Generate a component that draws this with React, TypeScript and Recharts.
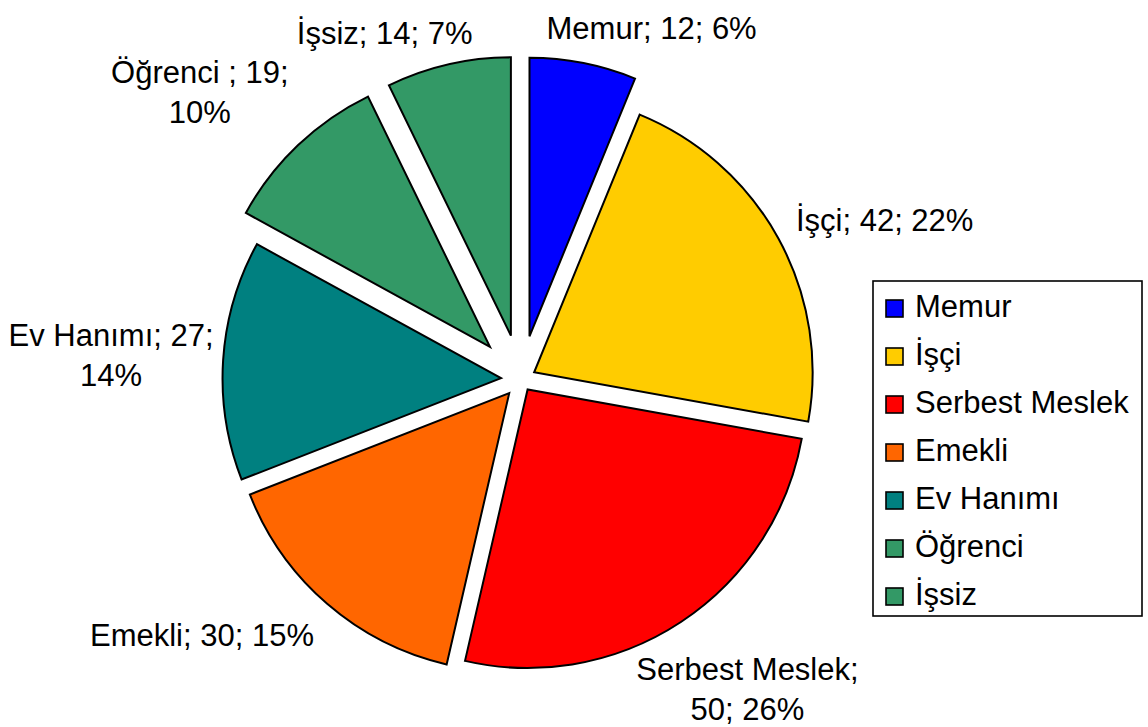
import React from 'react';
import { PieChart, Pie, Cell, Legend } from 'recharts';

// ---- data ----
const CATEGORIES = ['Memur', 'İşçi', 'Serbest Meslek', 'Emekli', 'Ev Hanımı', 'Öğrenci', 'İşsiz'];
const LABEL_NAMES = ['Memur', 'İşçi', 'Serbest Meslek', 'Emekli', 'Ev Hanımı', 'Öğrenci ', 'İşsiz'];
const VALUES = [12, 42, 50, 30, 27, 19, 14];
const COLORS = ['#0000FF', '#FFCC00', '#FF0000', '#FF6600', '#008080', '#339966', '#339966'];

// ---- layout / style ----
const W = 1148;
const H = 727;
const CX = 521;
const CY = 379.5;
const R = 278.5;
const EXPLODE = [44, 15, 12, 18, 20, 45, 45];
const FONT = 31;
const FONT_FAMILY = '"Liberation Sans", Arial, Helvetica, sans-serif';
const LINE_H = 40;
const LABEL_GAP = 12;
const WRAP_W = 235;
const LABEL_NUDGE: [number, number][] = [
  [60, 7],
  [23, 27],
  [12, -16],
  [-64, -40],
  [4, 2],
  [-32, 16],
  [-54, 10],
];

const TOTAL = VALUES.reduce((a, b) => a + b, 0);
const CUM = VALUES.map((_, i) => VALUES.slice(0, i).reduce((a, b) => a + b, 0));

let ctx: CanvasRenderingContext2D | null = null;
const measure = (s: string) => {
  if (!ctx) {
    const c = document.createElement('canvas');
    ctx = c.getContext('2d');
  }
  if (!ctx) return s.length * FONT * 0.55;
  ctx.font = `${FONT}px ${FONT_FAMILY}`;
  return ctx.measureText(s).width;
};

const wrap = (s: string) => {
  const words = s.split(' ');
  const lines: string[] = [];
  let cur = '';
  words.forEach((w) => {
    const t = cur ? cur + ' ' + w : w;
    if (cur && measure(t) > WRAP_W) {
      lines.push(cur);
      cur = w;
    } else cur = t;
  });
  if (cur) lines.push(cur);
  return lines;
};

const sliceAngles = (i: number) => {
  const start = 90 - (CUM[i] * 360) / TOTAL;
  const end = 90 - ((CUM[i] + VALUES[i]) * 360) / TOTAL;
  return { start, end, mid: (start + end) / 2 };
};

const makeLabel = (i: number) => (props: any) => {
  const { cx, cy, outerRadius } = props;
  const { mid } = sliceAngles(i);
  const rad = (mid * Math.PI) / 180;
  const ux = Math.cos(rad);
  const uy = -Math.sin(rad);
  const pct = Math.round((VALUES[i] / TOTAL) * 100);
  const text = `${LABEL_NAMES[i]}; ${VALUES[i]}; ${pct}%`;
  const lines = wrap(text);
  const w = Math.max(...lines.map(measure));
  const capH = 0.716 * FONT;
  const h = capH + (lines.length - 1) * LINE_H;
  const ext = (Math.abs(ux) * w) / 2 + (Math.abs(uy) * h) / 2;
  const dist = outerRadius + ext + LABEL_GAP;
  const x = cx + dist * ux + LABEL_NUDGE[i][0];
  const y = cy + dist * uy + LABEL_NUDGE[i][1];
  const firstBase = y - ((lines.length - 1) * LINE_H) / 2 + capH / 2;
  return (
    <text
      key={`lbl-${i}`}
      x={x}
      y={firstBase}
      textAnchor="middle"
      fontFamily={FONT_FAMILY}
      fontSize={FONT}
      fill="#000"
    >
      {lines.map((ln, k) => (
        <tspan key={k} x={x} y={firstBase + k * LINE_H}>
          {ln}
        </tspan>
      ))}
    </text>
  );
};

const LegendBox = () => (
  <svg width={272} height={338} style={{ display: 'block' }}>
    <rect x={1} y={1} width={269} height={335} fill="#fff" stroke="#000" strokeWidth={1.6} />
    {CATEGORIES.map((n, i) => (
      <g key={n + i}>
        <rect
          x={14}
          y={20 + i * 48}
          width={17}
          height={17}
          fill={COLORS[i]}
          stroke="#000"
          strokeWidth={1.6}
        />
        <text x={43} y={37 + i * 48} fontFamily={FONT_FAMILY} fontSize={FONT} fill="#000">
          {n}
        </text>
      </g>
    ))}
  </svg>
);

export default function App() {
  return (
    <div style={{ position: 'absolute', left: 0, top: 0, width: W, height: H, background: '#fff' }}>
      <PieChart width={W} height={H} margin={{ top: 0, right: 0, bottom: 0, left: 0 }}>
        {VALUES.map((v, i) => {
          const { start, end, mid } = sliceAngles(i);
          const rad = (mid * Math.PI) / 180;
          const ox = CX + EXPLODE[i] * Math.cos(rad);
          const oy = CY - EXPLODE[i] * Math.sin(rad);
          return (
            <Pie
              key={CATEGORIES[i]}
              data={[{ name: CATEGORIES[i], value: v }]}
              dataKey="value"
              nameKey="name"
              cx={ox}
              cy={oy}
              innerRadius={0}
              outerRadius={R}
              startAngle={start}
              endAngle={end}
              stroke="#000"
              strokeWidth={2}
              isAnimationActive={false}
              label={makeLabel(i)}
              labelLine={false}
            >
              <Cell fill={COLORS[i]} stroke="#000" strokeWidth={2} />
            </Pie>
          );
        })}
        <Legend
          layout="vertical"
          align="right"
          verticalAlign="middle"
          content={<LegendBox />}
          wrapperStyle={{ left: 872, top: 280, width: 272, height: 338 }}
        />
      </PieChart>
    </div>
  );
}
